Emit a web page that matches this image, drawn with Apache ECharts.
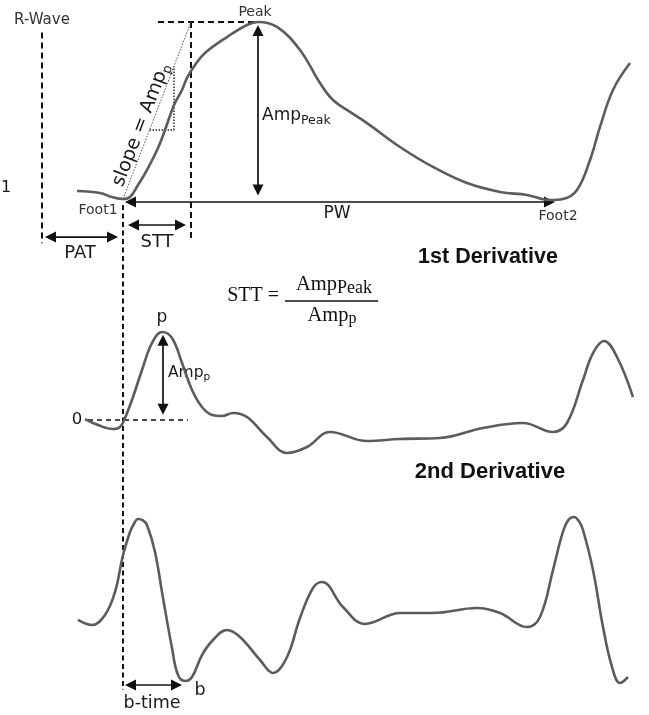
<!DOCTYPE html>
<html><head><meta charset="utf-8">
<script src="https://cdn.jsdelivr.net/npm/echarts@6/dist/echarts.min.js"></script>
<style>html,body{margin:0;padding:0;background:#fff}#c{width:649px;height:715px}</style>
</head><body><div id="c"></div>
<script>
// ---- DATA (time in ms relative to Foot1; amplitudes normalised) ----
const ppgTime = [-92,-46,-22,0,14,30,50,70,84,102,118,128,144,164,208,248,270,308,354,394,420,454,488,554,620,688,754,808,854,880,908,934,954,980,1014];
const ppgAmp  = [0.045,0.034,0.011,0,0.011,0.079,0.175,0.288,0.390,0.531,0.616,0.684,0.757,0.825,0.915,0.983,1.0,0.972,0.842,0.655,0.559,0.492,0.429,0.294,0.181,0.090,0.040,0.023,-0.006,0,0.051,0.220,0.407,0.616,0.768];
const d1Time  = [-76,-50,-20,-6,4,20,38,58,78,98,118,138,158,178,198,220,248,288,328,368,414,488,554,634,720,800,860,888,920,940,962,988,1020];
const d1Amp   = [0.011,-0.057,-0.102,-0.080,0.023,0.261,0.568,0.875,1.0,0.932,0.648,0.341,0.148,0.057,0.045,0.080,0.034,-0.193,-0.375,-0.307,-0.136,-0.239,-0.216,-0.205,-0.091,-0.034,-0.136,-0.034,0.455,0.761,0.898,0.716,0.261];
const d2Time  = [-90,-62,-36,-16,0,14,22,30,40,48,64,80,98,110,124,138,158,180,208,234,274,300,328,354,380,398,440,484,554,620,708,754,808,834,860,878,890,902,912,920,940,960,978,994,1010];
const d2Amp   = [-0.074,-0.128,-0.021,0.223,0.617,0.862,0.950,1.0,0.985,0.936,0.649,0.160,-0.372,-0.660,-0.723,-0.681,-0.447,-0.287,-0.181,-0.255,-0.500,-0.638,-0.468,-0.053,0.266,0.330,0.064,-0.117,0,0,0.053,0,-0.149,-0.043,0.457,0.830,0.985,1.021,0.975,0.883,0.457,-0.149,-0.574,-0.745,-0.681];
// key events (ms)
const eventNames = ['R-Wave','Foot1','STT end','p','b','Peak','Foot2'];
const eventTimes = [-162, 0, 136, 80, 118, 270, 864];

// ---- LAYOUT (not data) ----
const W = 649, H = 715;
const xMin = -246, xMax = 1052;
const panels = [ {zero:199, unit:177}, {zero:420, unit:88}, {zero:613, unit:94} ];
const sans = '"DejaVu Sans", Verdana, sans-serif';
const serif = '"Liberation Serif", "Times New Roman", serif';
const bold = '"Liberation Sans", Arial, sans-serif';
const curveColor = '#5c5c5c';

const chart = echarts.init(document.getElementById('c'), null, {renderer:'canvas'});
const grids = panels.map(() => ({left:0, right:0, top:0, bottom:0}));
const xAxes = panels.map((p,i) => ({type:'value', gridIndex:i, min:xMin, max:xMax, show:false}));
const yAxes = panels.map((p,i) => ({type:'value', gridIndex:i, min:-(H - p.zero)/p.unit, max:p.zero/p.unit, show:false}));
const mk = (t, a) => t.map((x, i) => [x, a[i]]);
const series = [[ppgTime, ppgAmp], [d1Time, d1Amp], [d2Time, d2Amp]].map((s, i) => ({
  type:'line', xAxisIndex:i, yAxisIndex:i, data: mk(s[0], s[1]), showSymbol:false, smooth:0.4,
  lineStyle:{color:curveColor, width:2.6}, silent:true, clip:false
}));
chart.setOption({animation:false, backgroundColor:'#fff', grid:grids, xAxis:xAxes, yAxis:yAxes, series});

const P = (g, t, a) => chart.convertToPixel({gridIndex:g}, [t, a]);
const ctx = document.createElement('canvas').getContext('2d');
function tw(str, size, fam, weight){ ctx.font = (weight||'normal') + ' ' + size + 'px ' + fam; return ctx.measureText(str).width; }

const G = [];
function line(p1, p2, o){ o = o||{}; G.push({type:'line', silent:true, shape:{x1:p1[0],y1:p1[1],x2:p2[0],y2:p2[1]},
  style:{stroke:o.color||'#111', lineWidth:o.w||2, lineDash:o.dash||null}}); }
function arrow(p1, p2, both, o){
  o = o||{}; const L = o.L||11, Wd = o.Wd||5.5;
  const dx = p2[0]-p1[0], dy = p2[1]-p1[1], len = Math.hypot(dx,dy), ux = dx/len, uy = dy/len, nx = -uy, ny = ux;
  const s = both ? [p1[0]+ux*L*0.8, p1[1]+uy*L*0.8] : p1;
  const e = [p2[0]-ux*L*0.8, p2[1]-uy*L*0.8];
  line(s, e, {w:o.w||1.7});
  const head = (tip, sx, sy) => G.push({type:'polygon', silent:true, shape:{points:[tip,
    [tip[0]-sx*L+nx*Wd, tip[1]-sy*L+ny*Wd], [tip[0]-sx*L-nx*Wd, tip[1]-sy*L-ny*Wd]]}, style:{fill:'#111'}});
  head(p2, ux, uy);
  if (both) head(p1, -ux, -uy);
}
function text(p, str, size, o){ o = o||{}; G.push({type:'text', silent:true, x:p[0], y:p[1],
  style:{text:str, fontSize:size, fontFamily:o.fam||sans, fontWeight:o.weight||'normal', fill:o.fill||'#1a1a1a',
  align:o.align||'center', verticalAlign:o.va||'middle'}}); }
function subText(p, main, sub, size, subSize, o){
  o = o||{}; const fam = o.fam||sans; const w1 = tw(main, size, fam), w2 = tw(sub, subSize, fam);
  let x0 = p[0]; if ((o.align||'left') === 'center') x0 = p[0] - (w1+w2)/2;
  text([x0, p[1]], main, size, {fam, align:'left', fill:o.fill});
  text([x0 + w1 + (o.gap||0), p[1] + (o.drop||4)], sub, subSize, {fam, align:'left', fill:o.fill});
}

const [rW, f1, sttE, pT, bT, pk, f2] = eventTimes;
const dash = [6,4];
// ---------- panel 0 : PPG ----------
line(P(0,rW,0.94), P(0,rW,-0.25), {dash});
text(P(0,rW,1.01), 'R-Wave', 15, {fill:'#333'});
text(P(0,-234,0.062), '1', 16);
line(P(0,70,1), P(0,pk,1), {dash});
line(P(0,sttE,1), P(0,sttE,-0.23), {dash});
const s0 = P(0,f1,0), s1 = P(0,sttE,1);
line(s0, s1, {dash:[1.5,1.5], w:1, color:'#555'});
const triA = 0.39, triT = 102;
line(P(0,triA*sttE,triA), P(0,triT,triA), {dash:[1.5,1.5], w:1.4, color:'#222'});
line(P(0,triT,triA), P(0,triT,triT/sttE), {dash:[1.5,1.5], w:1.4, color:'#222'});
(function(){
  const ang = Math.atan2(s0[1]-s1[1], s1[0]-s0[0]);
  const c = P(0, 0.40*sttE, 0.40);
  const size = 19, subSize = 13, main = 'slope = Amp', w1 = tw(main,size,sans), w2 = tw('p',subSize,sans);
  const x0 = -(w1+w2)/2;
  G.push({type:'group', x:c[0], y:c[1], rotation:ang, silent:true, children:[
    {type:'text', x:x0, y:0, style:{text:main, fontSize:size, fontFamily:sans, fill:'#1a1a1a', align:'left', verticalAlign:'bottom'}},
    {type:'text', x:x0+w1, y:2, style:{text:'p', fontSize:subSize, fontFamily:sans, fill:'#1a1a1a', align:'left', verticalAlign:'bottom'}}
  ]});
})();
arrow(P(0,pk,0.02), P(0,pk,0.983), true);
subText(P(0,pk+8,0.47), 'Amp', 'Peak', 17, 12.5, {drop:5});
text(P(0,pk-6,1.056), 'Peak', 14, {fill:'#333'});
arrow(P(0,f1+4,-0.017), P(0,f2,-0.017), true);
text(P(0,428,-0.08), 'PW', 17);
text(P(0,-50,-0.062), 'Foot1', 14, {fill:'#333'});
text(P(0,f2+6,-0.10), 'Foot2', 14, {fill:'#333'});
arrow(P(0,rW+6,-0.215), P(0,f1-10,-0.215), true);
text(P(0,-86,-0.305), 'PAT', 18);
arrow(P(0,f1+10,-0.147), P(0,sttE-10,-0.147), true);
text(P(0,68,-0.243), 'STT', 18);
text(P(0,730,-0.328), '1st Derivative', 21.5, {fam:bold, weight:'bold', fill:'#111'});

// ---------- panel 1 : 1st derivative ----------
text(P(1,312,1.41), 'STT =', 20, {fam:serif, align:'right', fill:'#111'});
line(P(1,324,1.352), P(1,510,1.352), {w:1.4});
subText(P(1,422,1.54), 'Amp', 'Peak', 20.5, 18, {fam:serif, align:'center', drop:4, fill:'#111'});
subText(P(1,418,1.19), 'Amp', 'p', 20.5, 16, {fam:serif, align:'center', drop:4, fill:'#111'});
text(P(1,pT-2,1.16), 'p', 17);
arrow(P(1,pT,0.06), P(1,pT,0.97), true);
subText(P(1,pT+10,0.534), 'Amp', 'p', 15.5, 10.5, {drop:4});
line(P(1,-70,0), P(1,130,0), {dash:[5,4], w:1.6});
text(P(1,-92,0), '0', 16.5);
text(P(1,734,-0.59), '2nd Derivative', 22, {fam:bold, weight:'bold', fill:'#111'});

// ---------- panel 2 : 2nd derivative ----------
line(P(0,f1,-0.034), P(2,f1,-0.819), {dash:[5,3.5]});
arrow(P(2,f1+4,-0.766), P(2,bT,-0.766), true);
text(P(2,58,-0.957), 'b-time', 17.5);
text(P(2,bT+36,-0.819), 'b', 17.5);

chart.setOption({graphic:{elements:G}});
</script>
</body></html>
